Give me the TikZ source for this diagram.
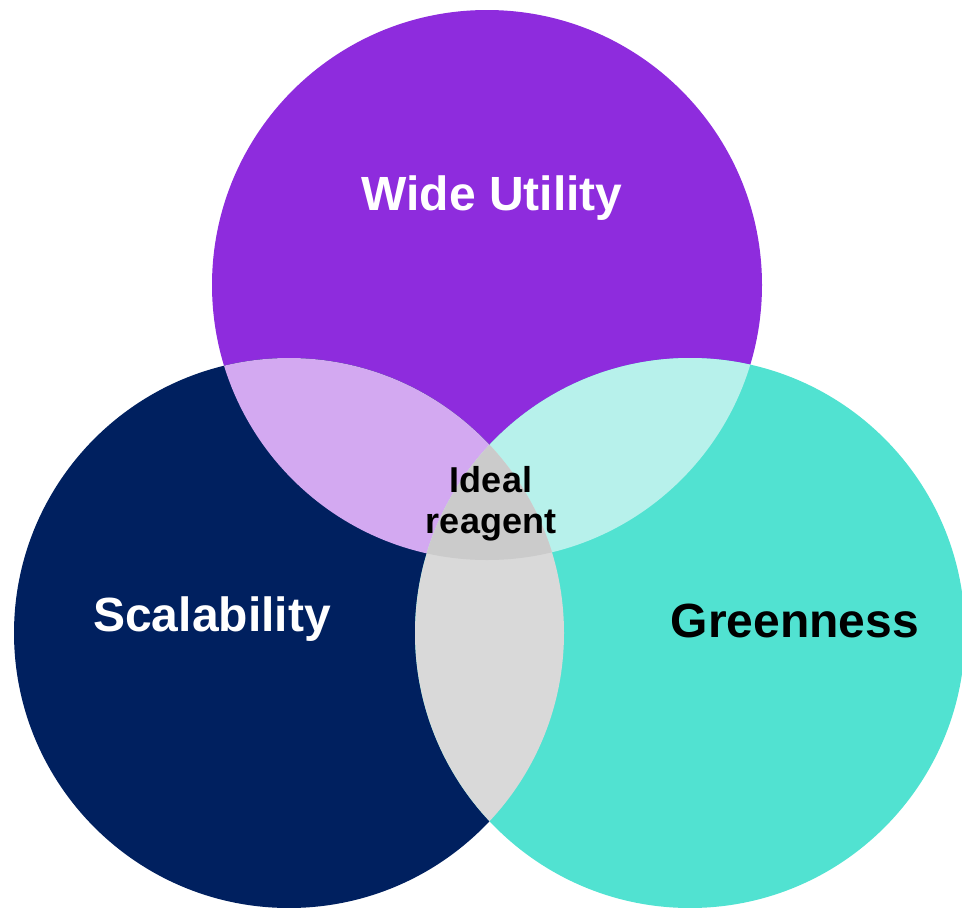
\documentclass[tikz,border=0pt]{standalone}
\usepackage{fontspec}
\setmainfont{Liberation Sans}
\definecolor{cpurple}{HTML}{8E2CDD}
\definecolor{cnavy}{HTML}{00205F}
\definecolor{cturq}{HTML}{51E2D1}
\definecolor{clpurple}{HTML}{D3A9F1}
\definecolor{clcyan}{HTML}{B7F1EB}
\definecolor{clgrey}{HTML}{D9D9D9}
\definecolor{cmgrey}{HTML}{CBCBCB}
\begin{document}
\begin{tikzpicture}[x=1pt,y=-1pt,
  bigtext/.style={font=\fontsize{48}{58}\selectfont\bfseries, inner sep=0pt, anchor=base},
  midtext/.style={font=\fontsize{36}{41}\selectfont\bfseries, inner sep=0pt, align=center, text=black}]
\useasboundingbox (0,0) rectangle (962,908);
\def\R{275}
\coordinate (pc) at (487,285);
\coordinate (nc) at (289,633);
\coordinate (tc) at (690,633);
% base circles
\fill[cpurple] (pc) circle (\R);
\fill[cnavy] (nc) circle (\R);
\fill[cturq] (tc) circle (\R);
% pairwise intersections
\begin{scope}
  \clip (pc) circle (\R);
  \fill[clpurple] (nc) circle (\R);
\end{scope}
\begin{scope}
  \clip (pc) circle (\R);
  \fill[clcyan] (tc) circle (\R);
\end{scope}
\begin{scope}
  \clip (nc) circle (\R);
  \fill[clgrey] (tc) circle (\R);
\end{scope}
% triple intersection
\begin{scope}
  \clip (pc) circle (\R);
  \clip (nc) circle (\R);
  \fill[cmgrey] (tc) circle (\R);
\end{scope}
% labels
\node[bigtext, text=white] (wide) at (492,210) {Wide Utility};
\node[bigtext, text=white] (scal) at (212,631) {Scalability};
\node[bigtext, text=black] (green) at (795,637) {Greenness};
\node[midtext] (ideal) at (491,504) {Ideal\\reagent};
\end{tikzpicture}
\end{document}
